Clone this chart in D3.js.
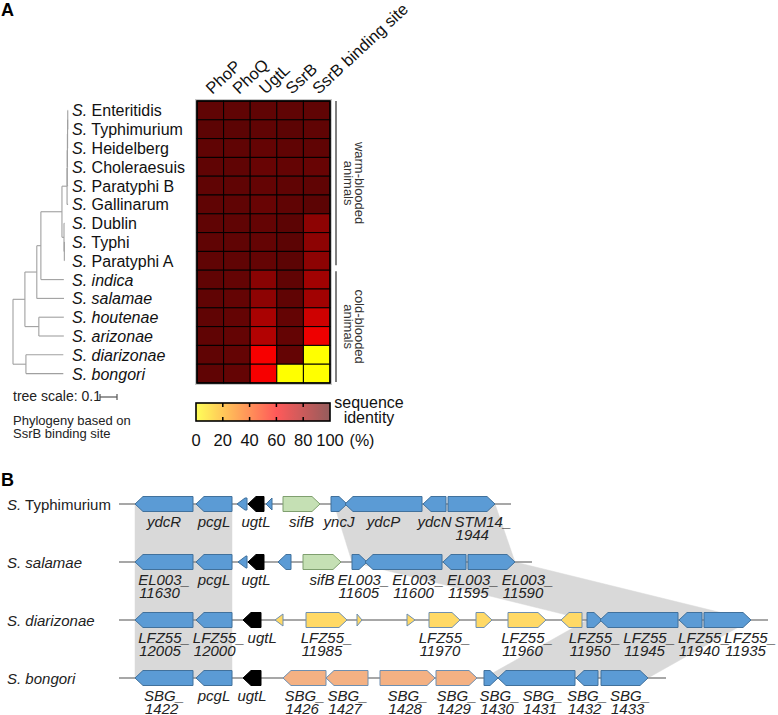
<!DOCTYPE html>
<html><head><meta charset="utf-8">
<script src="https://cdn.jsdelivr.net/npm/d3@7"></script>
<style>body{margin:0;background:#fff} svg{display:block;font-family:"Liberation Sans",Arial,sans-serif}</style>
</head><body>
<svg id="c" width="778" height="715"></svg>
<script>
// ---------------- DATA ----------------
const columns = ["PhoP", "PhoQ", "UgtL", "SsrB", "SsrB binding site"];
const speciesA = ["Enteritidis","Typhimurium","Heidelberg","Choleraesuis","Paratyphi B","Gallinarum","Dublin","Typhi","Paratyphi A","indica","salamae","houtenae","arizonae","diarizonae","bongori"];
const italicName = [0,0,0,0,0,0,0,0,0,1,1,1,1,1,1];
// sequence identity (%) per species: PhoP, PhoQ, UgtL, SsrB, SsrB binding site
const identity = [
  [99, 99, 99, 99, 99],
  [100,100, 99, 100, 99],
  [99, 99, 98, 99, 99],
  [99, 99, 97, 98, 97],
  [99, 99, 98, 99, 99],
  [99, 99, 97, 99, 100],
  [99, 99, 98, 100, 88],
  [99, 99, 98, 100, 88],
  [99, 99, 98, 100, 88],
  [99, 98, 89, 99, 83],
  [99, 98, 88, 99, 83],
  [99, 98, 81, 98, 72],
  [99, 98, 79, 98, 64],
  [99, 98, 62, 98, 0],
  [99, 98, 62, 0, 0]
];
const legendTicks = [0, 20, 40, 60, 80, 100];
const groups = [{name:["warm-blooded","animals"], from:"Enteritidis", to:"Paratyphi A"},
                {name:["cold-blooded","animals"], from:"indica", to:"bongori"}];
// phylogeny (branch lengths, substitutions/site)
const tree = {len:0, children:[
  {len:0.07, children:[
    {len:0.07, children:[
      {len:0.024, children:[
        {len:0.124, children:[
          {len:0.03, children:[
            {len:0.001, children:[
              {len:0.001, children:[
                {len:0.001, children:[
                  {len:0.001, children:[{name:"Enteritidis",len:0.002},{name:"Typhimurium",len:0.002}]},
                  {name:"Heidelberg",len:0.003}]},
                {name:"Choleraesuis",len:0.004}]},
              {name:"Paratyphi B",len:0.005}]},
            {name:"Gallinarum",len:0.006}]},
          {len:0.012, children:[
            {name:"Dublin",len:0.003},
            {len:0.002, children:[{name:"Typhi",len:0.001},{name:"Paratyphi A",len:0.001}]}]}
        ]},
        {name:"indica", len:0.135}]},
      {name:"salamae", len:0.16}]},
    {len:0.082, children:[{name:"houtenae",len:0.147},{name:"arizonae",len:0.147}]}]},
  {len:0.076, children:[{name:"diarizonae",len:0.22},{name:"bongori",len:0.22}]}
]};
const treeScaleValue = 0.1;

// Panel B: gene neighbourhoods (positions in kb from the aligned start)
const bSpecies = [{pre:"S.", name:"Typhimurium", it:false},{pre:"S.", name:"salamae", it:true},{pre:"S.", name:"diarizonae", it:true},{pre:"S.", name:"bongori", it:true}];
const locusEnd = [39.2, 41.3, 64.9, 54.7];
const typhimuriumGenes = [
  {name:"ydcR", s:1.6, e:7.4, str:-1, t:"core"},
  {name:"pcgL", s:7.7, e:11.3, str:-1, t:"core"},
  {name:null, s:11.8, e:12.8, str:-1, t:"core"},
  {name:"ugtL", s:12.9, e:14.5, str:-1, t:"ugtL"},
  {name:null, s:14.7, e:15.3, str:-1, t:"core"},
  {name:"sifB", s:16.4, e:20.1, str:1, t:"sifB"},
  {name:"yncJ", s:21.2, e:22.8, str:1, t:"core"},
  {name:"ydcP", s:22.6, e:30.3, str:-1, t:"core"},
  {name:"ydcN", s:30.4, e:32.7, str:-1, t:"core"},
  {name:"STM14_1944", s:32.9, e:37.6, str:1, t:"core"}
];
const salamaeGenes = [
  {name:"EL003_11630", s:1.6, e:7.4, str:-1, t:"core"},
  {name:"pcgL", s:7.7, e:11.3, str:-1, t:"core"},
  {name:null, s:11.9, e:12.8, str:-1, t:"core"},
  {name:"ugtL", s:12.9, e:14.5, str:-1, t:"ugtL"},
  {name:null, s:15.9, e:17.2, str:-1, t:"core"},
  {name:"sifB", s:18.4, e:22.2, str:1, t:"sifB"},
  {name:"EL003_11605", s:23.3, e:24.8, str:1, t:"core"},
  {name:"EL003_11600", s:24.6, e:32.3, str:-1, t:"core"},
  {name:"EL003_11595", s:32.4, e:34.7, str:-1, t:"core"},
  {name:"EL003_11590", s:34.9, e:39.6, str:1, t:"core"}
];
const diarizonaeGenes = [
  {name:"LFZ55_12005", s:1.6, e:7.4, str:-1, t:"core"},
  {name:"LFZ55_12000", s:7.7, e:11.3, str:-1, t:"core"},
  {name:"ugtL", s:12.4, e:14.2, str:-1, t:"ugtL"},
  {name:null, s:15.6, e:16.4, str:-1, t:"island"},
  {name:"LFZ55_11985", s:18.7, e:22.8, str:1, t:"island"},
  {name:null, s:23.8, e:24.3, str:1, t:"island"},
  {name:null, s:28.8, e:29.6, str:1, t:"island"},
  {name:"LFZ55_11970", s:31.0, e:34.1, str:1, t:"island"},
  {name:null, s:35.7, e:37.3, str:1, t:"island"},
  {name:"LFZ55_11960", s:38.9, e:42.7, str:1, t:"island"},
  {name:null, s:44.2, e:46.3, str:-1, t:"island"},
  {name:"LFZ55_11950", s:46.8, e:48.3, str:1, t:"core"},
  {name:"LFZ55_11945", s:48.1, e:55.9, str:-1, t:"core"},
  {name:"LFZ55_11940", s:56.0, e:58.3, str:-1, t:"core"},
  {name:"LFZ55_11935", s:58.5, e:63.2, str:1, t:"core"}
];
const bongoriGenes = [
  {name:"SBG_1422", s:1.6, e:7.4, str:-1, t:"core"},
  {name:"pcgL", s:7.7, e:11.3, str:-1, t:"core"},
  {name:"ugtL", s:12.4, e:14.2, str:-1, t:"ugtL"},
  {name:"SBG_1426", s:16.4, e:20.7, str:-1, t:"bong"},
  {name:"SBG_1427", s:20.7, e:24.9, str:-1, t:"bong"},
  {name:"SBG_1428", s:26.1, e:31.6, str:1, t:"bong"},
  {name:"SBG_1429", s:31.7, e:35.8, str:1, t:"bong"},
  {name:"SBG_1430", s:36.5, e:37.9, str:1, t:"core"},
  {name:"SBG_1431", s:37.9, e:45.6, str:-1, t:"core"},
  {name:"SBG_1432", s:45.7, e:47.9, str:-1, t:"core"},
  {name:"SBG_1433", s:48.2, e:52.9, str:1, t:"core"}
];
const locusGenes = [typhimuriumGenes, salamaeGenes, diarizonaeGenes, bongoriGenes];
// conserved (syntenic) regions between consecutive loci, kb ranges
const synteny = [
  {a:0, ra:[1.6,11.3], b:1, rb:[1.6,11.3]},
  {a:1, ra:[1.6,11.3], b:2, rb:[1.6,11.3]},
  {a:2, ra:[1.6,11.3], b:3, rb:[1.6,11.3]},
  {a:0, ra:[21.5,37.6], b:1, rb:[23.3,39.6]},
  {a:1, ra:[23.3,39.6], b:2, rb:[46.8,63.2]},
  {a:2, ra:[46.8,63.2], b:3, rb:[36.5,52.9]}
];

// ---------------- STYLE ----------------
const geneFill = {core:"#5b9bd5", ugtL:"#000000", sifB:"#c5e0b4", island:"#ffd966", bong:"#f4b183"};
const geneStroke = {core:"#41719c", ugtL:"#000000", sifB:"#7f9f6f", island:"#6f8fb0", bong:"#6f8fb0"};

const svg = d3.select("#c");

// ================ PANEL A ================
svg.append("text").attr("x",1).attr("y",16).attr("font-weight","bold").attr("font-size",18).text("A");

const x = d3.scaleBand().domain(columns).range([197, 330]);
const y = d3.scaleBand().domain(speciesA).range([101, 383]);
const color = d3.scaleLinear().domain([0, 60, 100]).range(["#ffff00", "#ff0000", "#5c0404"]);

// shadow/outer frame
svg.append("rect").attr("x",195.5).attr("y",99.5).attr("width",136).attr("height",285)
  .attr("fill","none").attr("stroke","#c8c8c8").attr("stroke-width",1);

const cells = [];
identity.forEach((row,i)=>row.forEach((v,j)=>cells.push({sp:speciesA[i], col:columns[j], v})));
svg.append("g").selectAll("rect").data(cells).join("rect")
  .attr("x", d=>x(d.col)).attr("y", d=>y(d.sp))
  .attr("width", x.bandwidth()).attr("height", y.bandwidth())
  .attr("fill", d=>color(d.v)).attr("stroke","#000").attr("stroke-width",1);
svg.append("rect").attr("x",197).attr("y",101).attr("width",133).attr("height",282)
  .attr("fill","none").attr("stroke","#000").attr("stroke-width",1.6);

// column labels
svg.append("g").selectAll("text").data(columns).join("text")
  .attr("transform", d=>`translate(${x(d)+x.bandwidth()/2+2},95) rotate(-43)`)
  .attr("font-size",16.5).attr("fill","#111").text(d=>d);

// species labels
const lab = svg.append("g").selectAll("text").data(speciesA).join("text")
  .attr("x",72).attr("y", d=>y(d)+y.bandwidth()/2).attr("dominant-baseline","central")
  .attr("font-size",16).attr("fill","#111");
lab.append("tspan").attr("font-style","italic").text("S.");
lab.append("tspan").attr("font-style",(d,i)=>italicName[i]?"italic":"normal").text(d=>" "+d);

// tree
const root = d3.hierarchy(tree);
const tx = d3.scaleLinear().domain([0, treeScaleValue]).range([0, 17]);
root.eachBefore(n=>{ n.depthLen = (n.parent? n.parent.depthLen : 0) + (n.data.len||0); n.px = 13 + tx(n.depthLen); });
root.eachAfter(n=>{
  if (n.children) n.py = (n.children[0].py + n.children[n.children.length-1].py)/2;
  else n.py = y(n.data.name) + y.bandwidth()/2;
});
const tg = svg.append("g").attr("stroke","#a0a0a0").attr("stroke-width",1.1).attr("fill","none");
root.descendants().forEach(n=>{
  if (n.parent) tg.append("line").attr("x1",n.parent.px).attr("x2",n.px).attr("y1",n.py).attr("y2",n.py);
  if (n.children) tg.append("line").attr("x1",n.px).attr("x2",n.px)
     .attr("y1",n.children[0].py).attr("y2",n.children[n.children.length-1].py);
});
// tree scale
svg.append("text").attr("x",13).attr("y",401).attr("font-size",14).attr("fill","#222").text("tree scale: " + treeScaleValue);
const sb = svg.append("g").attr("stroke","#555").attr("stroke-width",1.2);
sb.append("line").attr("x1",100).attr("x2",100+tx(treeScaleValue)).attr("y1",397).attr("y2",397);
sb.append("line").attr("x1",100).attr("x2",100).attr("y1",394).attr("y2",400);
sb.append("line").attr("x1",100+tx(treeScaleValue)).attr("x2",100+tx(treeScaleValue)).attr("y1",394).attr("y2",400);
svg.append("text").attr("x",13).attr("y",424.5).attr("font-size",13).attr("fill","#222").text("Phylogeny based on");
svg.append("text").attr("x",13).attr("y",438).attr("font-size",13).attr("fill","#222").text("SsrB binding site");

// group brackets
groups.forEach((g,k)=>{
  const y1 = y(g.from) + (k===0?0:1), y2 = y(g.to) + y.bandwidth() - (k===0?5:1);
  svg.append("line").attr("x1",336).attr("x2",336).attr("y1",y1).attr("y2",y2).attr("stroke","#555").attr("stroke-width",1.5);
  const cy = (y1+y2)/2;
  const t = svg.append("text").attr("transform",`translate(359,${cy}) rotate(90)`)
    .attr("text-anchor","middle").attr("font-size",13).attr("fill","#333");
  t.append("tspan").attr("x",0).attr("y",0).attr("dominant-baseline","central").text(g.name[0]);
  t.append("tspan").attr("x",0).attr("y",11).attr("dominant-baseline","central").text(g.name[1]);
});

// legend
const lx = d3.scaleLinear().domain([0,100]).range([196,330]);
const grad = svg.append("defs").append("linearGradient").attr("id","lg");
d3.range(0,101,5).forEach(v=>grad.append("stop").attr("offset",v+"%")
  .attr("stop-color", d3.interpolateRgb("#ffffff", color(v))(0.65)));
svg.append("rect").attr("x",lx(0)).attr("y",403).attr("width",lx(100)-lx(0)).attr("height",18)
  .attr("fill","url(#lg)").attr("stroke","#000").attr("stroke-width",1.6);
const lt = svg.append("g").attr("stroke","#000").attr("stroke-width",1.5);
legendTicks.slice(1,-1).forEach(v=>{
  lt.append("line").attr("x1",lx(v)).attr("x2",lx(v)).attr("y1",403).attr("y2",407);
  lt.append("line").attr("x1",lx(v)).attr("x2",lx(v)).attr("y1",417).attr("y2",421);
});
svg.append("g").selectAll("text").data(legendTicks).join("text")
  .attr("x",d=>lx(d)).attr("y",446).attr("text-anchor","middle").attr("font-size",16.5).attr("fill","#111").text(d=>d);
svg.append("text").attr("x",362).attr("y",446).attr("text-anchor","middle").attr("font-size",16).attr("fill","#111").text("(%)");
svg.append("text").attr("x",369).attr("y",408).attr("text-anchor","middle").attr("font-size",16).attr("fill","#111").text("sequence");
svg.append("text").attr("x",369).attr("y",423).attr("text-anchor","middle").attr("font-size",16).attr("fill","#111").text("identity");

// ================ PANEL B ================
svg.append("text").attr("x",1).attr("y",486).attr("font-weight","bold").attr("font-size",18).text("B");
const gx = d3.scaleLinear().domain([0, 65]).range([119, 769]);
const gy = d3.scalePoint().domain(d3.range(bSpecies.length)).range([504, 678]);

// synteny shading
svg.append("g").selectAll("path").data(synteny).join("path")
  .attr("d", d=>`M${gx(d.ra[0])},${gy(d.a)}L${gx(d.ra[1])},${gy(d.a)}L${gx(d.rb[1])},${gy(d.b)}L${gx(d.rb[0])},${gy(d.b)}Z`)
  .attr("fill","#d9d9d9").attr("stroke","#d9d9d9").attr("stroke-width",0.5);

// species labels B
bSpecies.forEach((s,i)=>{
  const t = svg.append("text").attr("x",7).attr("y",gy(i)).attr("dominant-baseline","central").attr("font-size",15).attr("fill","#222");
  t.append("tspan").attr("font-style","italic").text(s.pre);
  t.append("tspan").attr("font-style", s.it?"italic":"normal").text(" "+s.name);
});

// backbone lines
svg.append("g").selectAll("line").data(locusEnd).join("line")
  .attr("x1",gx(0)).attr("x2",(d)=>gx(d)).attr("y1",(d,i)=>gy(i)).attr("y2",(d,i)=>gy(i))
  .attr("stroke","#8a8a8a").attr("stroke-width",1.5);

function genePath(g, yc){
  const x0 = gx(g.s), x1 = gx(g.e), L = x1-x0;
  const h = L <= 10 ? 12 : 15, head = Math.min(8, L);
  const t = yc-h/2, b = yc+h/2;
  if (g.str > 0) return `M${x0},${t}L${x1-head},${t}L${x1},${yc}L${x1-head},${b}L${x0},${b}Z`;
  return `M${x1},${t}L${x0+head},${t}L${x0},${yc}L${x0+head},${b}L${x1},${b}Z`;
}
locusGenes.forEach((genes,i)=>{
  const yc = gy(i);
  svg.append("g").selectAll("path").data(genes).join("path")
    .attr("d", g=>genePath(g,yc)).attr("fill", g=>geneFill[g.t]).attr("stroke", g=>geneStroke[g.t]).attr("stroke-width",1);
  // labels with simple left-to-right collision avoidance
  const lg = svg.append("g").attr("font-size",15).attr("font-style","italic").attr("fill","#222");
  let prevEnd = -Infinity;
  genes.filter(g=>g.name).forEach(g=>{
    const k = g.name.indexOf("_");
    const parts = k>=0 ? [g.name.slice(0,k+1), g.name.slice(k+1)] : [g.name];
    const t1 = lg.append("text").attr("y", yc+22.5).text(parts[0]);
    const w = t1.node().getComputedTextLength();
    const cx = (gx(g.s)+gx(g.e))/2;
    const sx = Math.min(Math.max(cx - w/2, prevEnd + 3), 776 - w);
    t1.attr("x", sx);
    if (parts[1]) lg.append("text").attr("x", sx+1).attr("y", yc+35.5).text(parts[1]);
    prevEnd = sx + w;
  });
});
</script>
</body></html>
